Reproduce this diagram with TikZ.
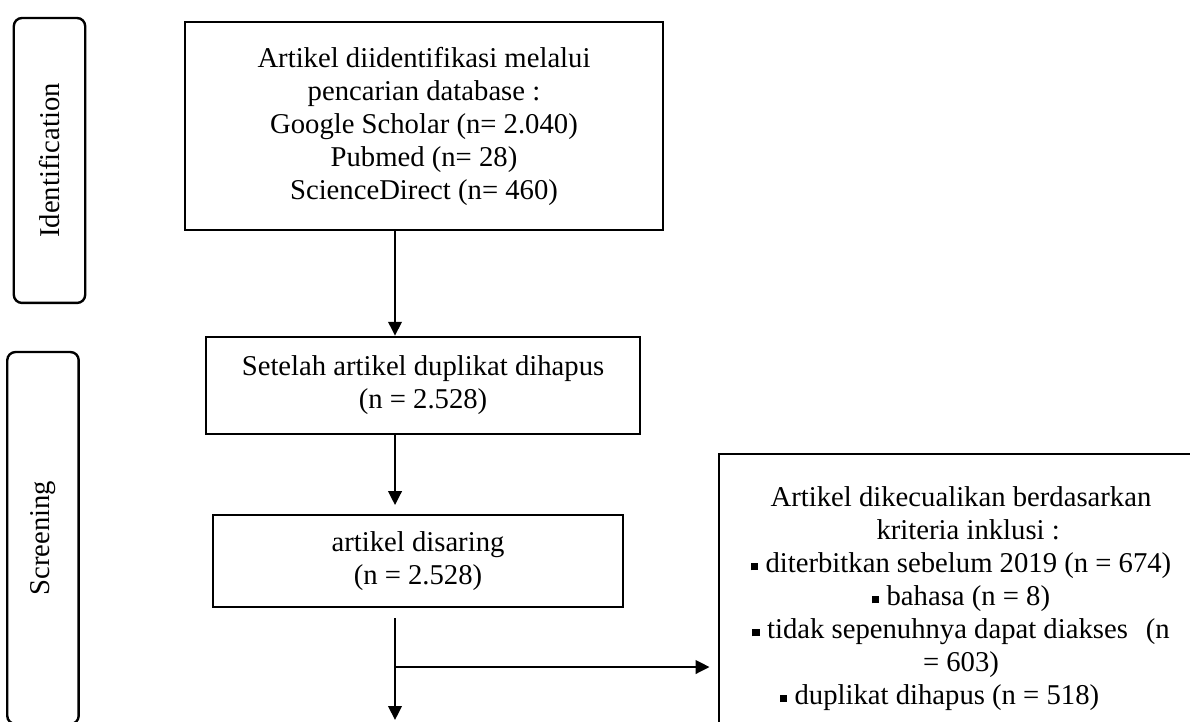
\documentclass[tikz,border=0pt]{standalone}
\usepackage{fontspec}
\setmainfont{Liberation Serif}
\usetikzlibrary{arrows.meta,calc,positioning}

\newcommand{\sqbul}{\rule[0.9pt]{3.2pt}{3.2pt}\ }

\begin{document}
\begin{tikzpicture}[
    x=1cm,y=1cm,
    >={Triangle[length=5.8pt,width=5.6pt]},
    txt/.style={font=\fontsize{12}{13.8}\selectfont},
    box/.style={
        txt,
        draw=black,
        line width=1pt,
        fill=white,
        align=center,
        inner sep=2pt
    },
    phase/.style={
        txt,
        draw=black,
        line width=1pt,
        rounded corners=0.12cm,
        rotate=90,
        minimum height=1.05cm,
        inner sep=2pt
    },
    flow/.style={->, line width=1pt, draw=black}
]

\useasboundingbox (0,0) rectangle (17.5,10.603);

% -----------------------------------------------------------------------------
% Phase labels
% -----------------------------------------------------------------------------
\node[phase, minimum width=4.19cm] (ident) at (0.728,8.243) {Identification};
\node[phase, minimum width=5.47cm] (screening) at (0.632,2.691) {Screening};

% -----------------------------------------------------------------------------
% Main flow
% -----------------------------------------------------------------------------
\node[box, minimum width=7.03cm, minimum height=3.06cm] (search) at (6.235,8.750)
    {Artikel diidentifikasi melalui\\pencarian database :\\Google Scholar (n= 2.040)\\
     Pubmed (n= 28)\\ScienceDirect (n= 460)};
\node[box, minimum width=6.38cm, minimum height=1.43cm] (dedup) at (6.221,4.934)
    {Setelah artikel duplikat dihapus\\(n = 2.528)};
\node[box, minimum width=6.03cm, minimum height=1.35cm] (screen) at (6.147,2.353)
    {artikel disaring\\(n = 2.528)};

\coordinate (spine) at (5.809,0);
\coordinate (split) at (5.809,0.794);
\coordinate (out) at (5.809,0.015);

\draw[flow] (search.south -| spine) -- (dedup.north -| spine);
\draw[flow] (dedup.south -| spine) -- ($(screen.north -| spine)+(0,0.13)$);
\draw[flow] ($(screen.south -| spine)+(0,-0.15)$) -- (out);

% -----------------------------------------------------------------------------
% Excluded articles
% -----------------------------------------------------------------------------
\node[box, minimum width=7.12cm, minimum height=4.25cm] (excl) at (14.132,1.801)
    {Artikel dikecualikan berdasarkan\\
     \hspace*{6pt}kriteria inklusi :\\
     \sqbul diterbitkan sebelum 2019 (n = 674)\\
     \sqbul bahasa (n = 8)\\
     \sqbul tidak sepenuhnya dapat diakses\hspace{7.5pt}(n\\
     = 603)\hspace*{61pt}\\
     \sqbul duplikat dihapus (n = 518)\hspace*{18pt}};

\draw[flow] (split) -- ($(excl.west |- split)+(-0.12,0)$);

\end{tikzpicture}
\end{document}
